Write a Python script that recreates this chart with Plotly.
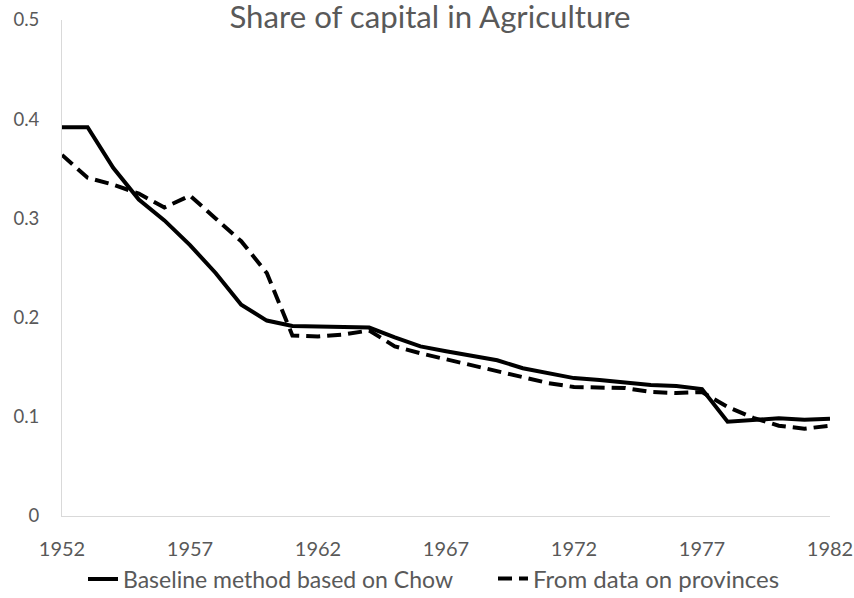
import plotly.graph_objects as go

years = list(range(1952, 1983))
baseline_chow = [0.392, 0.392, 0.351, 0.319, 0.298, 0.273, 0.245, 0.213, 0.197, 0.1915,
                 0.191, 0.191, 0.190, 0.180, 0.171, 0.166, 0.162, 0.157, 0.149, 0.144,
                 0.139, 0.137, 0.134, 0.132, 0.131, 0.128, 0.095, 0.097, 0.0985, 0.097, 0.098]
from_provinces = [0.364, 0.341, 0.334, 0.325, 0.311, 0.323, 0.300, 0.277, 0.245, 0.182,
                  0.181, 0.183, 0.187, 0.171, 0.164, 0.158, 0.152, 0.146, 0.140, 0.134,
                  0.130, 0.130, 0.129, 0.125, 0.124, 0.125, 0.110, 0.099, 0.091, 0.088, 0.091]
x_ticks = [1952, 1957, 1962, 1967, 1972, 1977, 1982]
y_ticks = [0, 0.1, 0.2, 0.3, 0.4, 0.5]
y_tick_text = ["0", "0.1", "0.2", "0.3", "0.4", "0.5"]

# Body margin is removed in post_script, so the figure fills the 854x598 window.
W, H = 854, 598

fig = go.Figure()
fig.add_trace(go.Scatter(x=years, y=baseline_chow, mode="lines",
                         name="Baseline method based on Chow",
                         line=dict(color="black", width=4), legend="legend"))
fig.add_trace(go.Scatter(x=years, y=from_provinces, mode="lines",
                         name="From data on provinces",
                         line=dict(color="black", width=4, dash="14px,7px"), legend="legend2"))

legend_common = dict(orientation="h", yref="container", xref="container",
                     y=1 - 579/H, yanchor="middle", xanchor="left",
                     itemwidth=30, bgcolor="rgba(0,0,0,0)")

fig.update_layout(
    width=W, height=H,
    paper_bgcolor="white", plot_bgcolor="white",
    margin=dict(l=62, r=24, t=20, b=82),
    font=dict(family="Lato, Carlito, sans-serif", color="#595959", size=18),
    title=dict(text="Share of capital in Agriculture", x=430/W, xanchor="center",
               xref="container", y=1 - 17/H, yanchor="middle", yref="container",
               font=dict(size=31.2, color="#595959")),
    xaxis=dict(range=[1952, 1982], tickvals=x_ticks, showgrid=False, zeroline=False,
               showline=True, linecolor="#d9d9d9", linewidth=1, ticks="",
               ticklabelstandoff=15, tickfont=dict(size=20), automargin=False,
               ticklabeloverflow="allow"),
    yaxis=dict(range=[0, 0.5], tickvals=y_ticks, ticktext=y_tick_text, showgrid=False,
               zeroline=False, showline=True, linecolor="#d9d9d9", linewidth=1, ticks="",
               ticklabelstandoff=18, tickfont=dict(size=18.5), automargin=False,
               ticklabeloverflow="allow"),
    legend=dict(x=83/W, font=dict(size=23, color="#595959"), **legend_common),
    legend2=dict(x=493/W, font=dict(size=24, color="#595959"), **legend_common),
    showlegend=True,
)

fig.write_html("out.html",
               config={"displayModeBar": False},
               post_script="document.body.style.margin='0';"
                           "document.documentElement.style.overflow='hidden';")
